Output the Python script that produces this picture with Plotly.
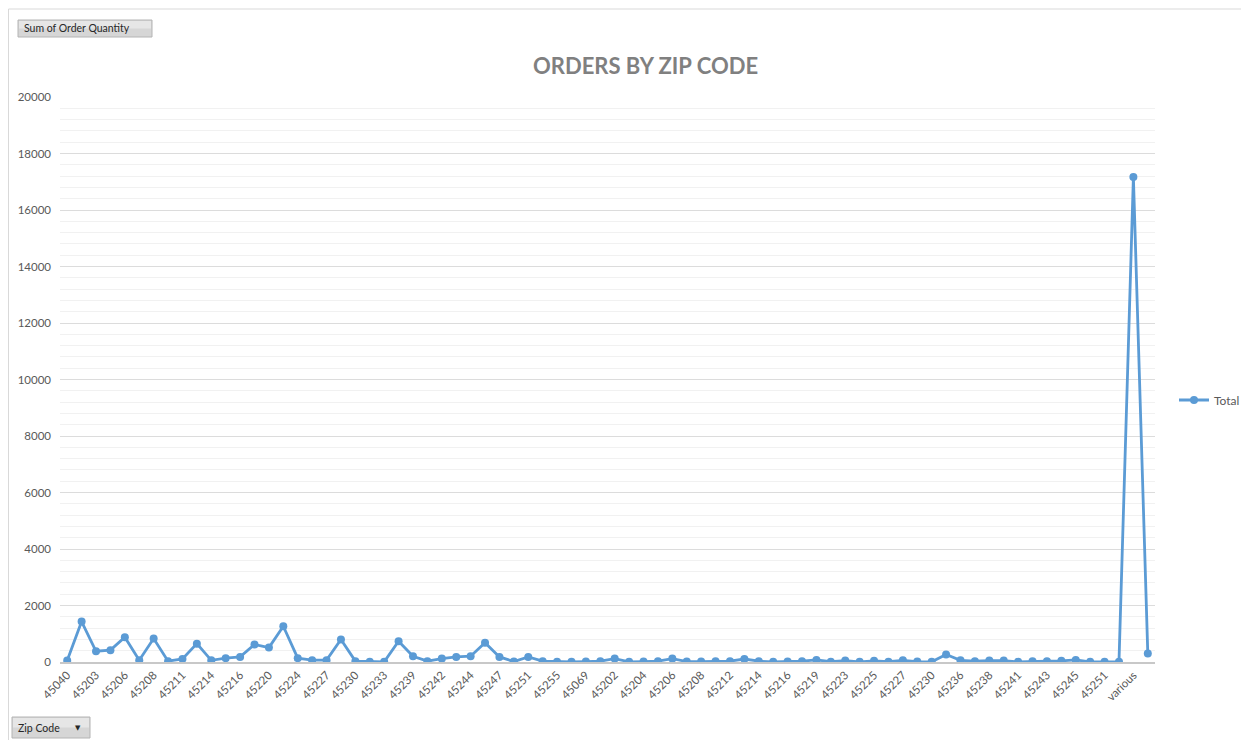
import plotly.graph_objects as go

# ---- data ----
zip_codes = [
    "45040", "45202", "45203", "45205", "45206", "45207", "45208", "45209",
    "45211", "45212", "45214", "45215", "45216", "45217", "45220", "45223",
    "45224", "45225", "45227", "45229", "45230", "45231", "45233", "45237",
    "45239", "45240", "45242", "45243", "45244", "45246", "45247", "45248",
    "45251", "45252", "45255", "45002", "45069", "45201", "45202", "45203",
    "45204", "45205", "45206", "45207", "45208", "45211", "45212", "45213",
    "45214", "45215", "45216", "45217", "45219", "45220", "45223", "45224",
    "45225", "45226", "45227", "45229", "45230", "45232", "45236", "45237",
    "45238", "45239", "45241", "45242", "45243", "45244", "45245", "45248",
    "45251", "45255", "various", "(blank)",
]
order_qty = [
    50, 1430, 380, 420, 880, 65, 830, 30,
    110, 650, 60, 135, 180, 620, 510, 1265,
    135, 65, 65, 795, 30, 5, 5, 735,
    205, 30, 120, 180, 205, 680, 180, 15,
    180, 30, 5, 5, 15, 30, 120, 5,
    15, 30, 120, 15, 15, 30, 30, 105,
    30, 5, 15, 30, 75, 10, 50, 5,
    40, 10, 60, 15, 5, 265, 60, 30,
    50, 50, 5, 30, 30, 40, 75, 5,
    5, 5, 17170, 300,
]
series_name = "Total"
chart_title = "ORDERS BY ZIP CODE"
y_ticks = [0, 2000, 4000, 6000, 8000, 10000, 12000, 14000, 16000, 18000, 20000]
y_tick_labels = [str(v) for v in y_ticks]

# ---- layout geometry (screen pixels; page body has an 8px margin) ----
OX, OY = 8, 8
W, H = 1249 - OX, 740 - OY
L, R, T, B = 60, 1155, 97, 662  # plot area in screen pixels


def px_x(p):
    return (p - L) / (R - L)


def px_y(p):
    return (B - p) / (B - T)


idx = list(range(len(zip_codes)))
blue = "#5b9bd5"
grey_txt = "#595959"
font_family = "Lato, 'Open Sans', sans-serif"

fig = go.Figure()
fig.add_trace(go.Scatter(
    x=idx, y=order_qty, name=series_name, mode="lines+markers",
    line=dict(color=blue, width=2.8),
    marker=dict(color=blue, size=8),
    showlegend=True,
))

fig.update_layout(
    width=W, height=H,
    margin=dict(l=L - OX, r=1249 - R, t=T - OY, b=740 - B, pad=0, autoexpand=False),
    paper_bgcolor="white", plot_bgcolor="white",
    font=dict(family=font_family, size=11, color=grey_txt),
    showlegend=True,
    legend=dict(x=px_x(1174), y=px_y(400), xanchor="left", yanchor="middle",
                font=dict(size=12, color=grey_txt), bgcolor="rgba(0,0,0,0)",
                itemwidth=30),
    xaxis=dict(
        range=[-0.5, len(zip_codes) - 0.5],
        tickmode="array", tickvals=idx[::2], ticktext=zip_codes[::2],
        tickangle=-45, tickfont=dict(size=11.5, color=grey_txt),
        showgrid=False, zeroline=False,
        showline=True, linecolor="#c8c8c8", linewidth=2,
        ticks="", fixedrange=True,
    ),
    yaxis=dict(
        range=[0, 20000], tickmode="array", tickvals=y_ticks, ticktext=y_tick_labels,
        tickfont=dict(size=11.5, color=grey_txt),
        showgrid=True, gridcolor="#dcdcdc", gridwidth=1,
        zeroline=False, showline=False, ticks="",
        ticklabelstandoff=8,
        minor=dict(dtick=400, showgrid=True, gridcolor="#f1f1f1", gridwidth=1),
        fixedrange=True,
    ),
)

fig.add_annotation(
    text="<b>" + chart_title + "</b>", xref="paper", yref="paper",
    x=px_x(645), y=px_y(66), showarrow=False, xanchor="center", yanchor="middle",
    font=dict(family=font_family, size=22, color="#808080"),
)

# outer chart border
fig.add_shape(type="rect", xref="paper", yref="paper",
              x0=px_x(8.5), x1=px_x(1246), y0=px_y(745), y1=px_y(9),
              line=dict(color="#d9d9d9", width=1), fillcolor="rgba(0,0,0,0)",
              layer="below")


# field buttons
def button(x0, y0, x1, y1, label, arrow=False):
    fig.add_shape(type="rect", xref="paper", yref="paper",
                  x0=px_x(x0), x1=px_x(x1), y0=px_y(y1), y1=px_y(y0),
                  line=dict(color="#b4b4b4", width=1), fillcolor="#d6d6d6",
                  layer="above")
    fig.add_shape(type="rect", xref="paper", yref="paper",
                  x0=px_x(x0 + 1), x1=px_x(x1 - 1), y0=px_y((y0 + y1) / 2), y1=px_y(y0 + 1),
                  line=dict(width=0), fillcolor="#e6e6e6", layer="above")
    fig.add_annotation(text=label, xref="paper", yref="paper",
                       x=px_x(x0 + 4), y=px_y((y0 + y1) / 2), showarrow=False,
                       xanchor="left", yanchor="middle",
                       font=dict(family=font_family, size=10.5, color="#262626"))
    if arrow:
        fig.add_annotation(text="▼", xref="paper", yref="paper",
                           x=px_x(x1 - 12), y=px_y((y0 + y1) / 2), showarrow=False,
                           xanchor="center", yanchor="middle",
                           font=dict(family="DejaVu Sans", size=7, color="#262626"))


button(18, 20, 152, 37, "Sum of Order Quantity")
button(12, 717, 90, 738, "Zip Code", arrow=True)

fig.write_html("out.html")
